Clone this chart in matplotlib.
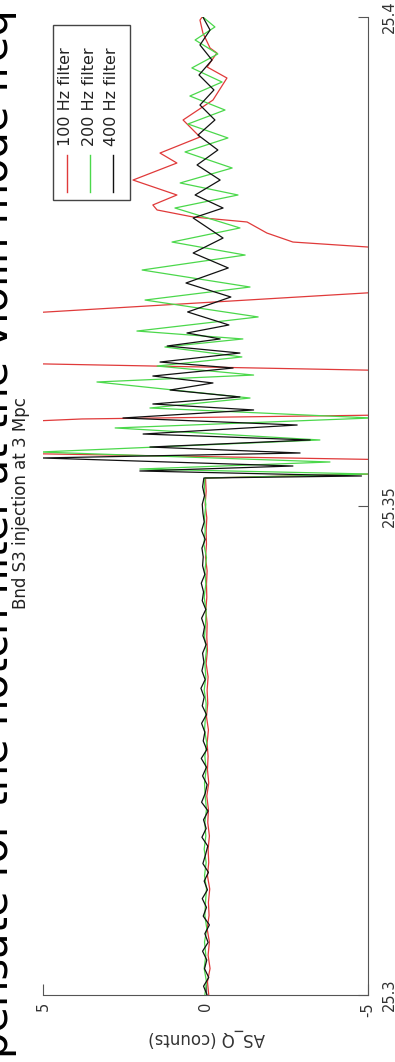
import numpy as np
import matplotlib
matplotlib.use('Agg')
import matplotlib.pyplot as plt
from matplotlib.patches import Rectangle
from matplotlib.lines import Line2D

plt.rcParams['axes.unicode_minus'] = False

# time axis (s) and the moment the injection starts
t_start = 25.3
t_burst = 25.35286

# quiet part before the injection (counts)
red_flat = [-0.10, -0.06, -0.14, -0.08, -0.12, -0.05, -0.11, -0.09, -0.13, -0.06,
            -0.10, -0.08, -0.12, -0.07, -0.09, -0.04, -0.10, -0.06, -0.08, -0.05,
            -0.09, -0.03, -0.07, -0.05, -0.08, -0.02, -0.06, -0.04, -0.05, -0.01,
            -0.04, -0.03, -0.05, 0.00, -0.03, -0.02, -0.04, 0.01, -0.02, 0.00]
green_flat = [0.02, -0.03, 0.04, -0.01, 0.03, -0.04, 0.02, 0.00, -0.03, 0.03,
              -0.02, 0.04, -0.01, 0.02, -0.03, 0.01, 0.03, -0.02, 0.02, -0.04,
              0.03, 0.00, -0.02, 0.04, -0.01, 0.02, -0.03, 0.03, 0.00, -0.02,
              0.04, -0.01, 0.02, -0.03, 0.05, 0.01, 0.03, -0.01, 0.04, 0.02]
black_flat = [-0.05, 0.06, -0.10, 0.03, -0.04, 0.09, -0.08, 0.02, -0.12, 0.07,
              -0.03, 0.10, -0.06, 0.04, -0.09, 0.08, 0.00, -0.07, 0.11, -0.02,
              0.06, -0.08, 0.12, 0.01, -0.05, 0.09, -0.03, 0.13, -0.04, 0.07,
              0.02, 0.12, -0.03, 0.10, 0.04, 0.14, 0.01, 0.11, 0.05, 0.09,
              -0.02, 0.08, 0.03, 0.12, -0.01, 0.10, 0.06, 0.13, 0.02, 0.09,
              0.07, 0.11, 0.01, 0.12, 0.04, 0.08, 0.10, 0.03, 0.09, 0.05]

# after the injection: ms after 25.3 s and counts
red_ms = [53.5, 54.6, 55.5, 58.3, 58.90, 59.41, 63.70, 64.72, 69.22, 72.39,
          75.97, 76.48, 76.99, 77.91, 79.04, 79.55, 80.27, 80.78, 81.80, 83.33,
          85.07, 86.09, 87.73, 89.47, 91.51, 93.76, 94.89, 96.32, 96.83, 98.36,
          99.69, 100.0]
red_v = [-8, -8, 8, 8, 3.8, -8, -8, 8, 8, -8,
         -8, -5.0, -2.69, -1.89, -1.28, 0.38, 1.49, 1.62, 0.88, 2.23,
         0.88, 1.4, 0.17, 0.69, -0.23, -0.66, -0.05, -0.35, -0.14, 0.08,
         0.17, 0.1]

green_ms = [53.27, 53.78, 54.50, 55.52, 56.75, 57.98, 59.00, 60.02, 61.04, 62.68,
            63.39, 64.31, 65.24, 66.26, 67.08, 67.89, 69.33, 71.06, 72.39, 74.13,
            75.66, 76.99, 78.43, 80.47, 81.80, 83.03, 84.56, 86.20, 87.63, 89.06,
            90.49, 91.92, 93.35, 94.79, 96.22, 97.65, 98.98, 100.0]
green_v = [-5.06, 2.02, -3.83, 5.09, -3.52, 2.78, -5.12, 1.71, -1.37, 3.34,
           -1.48, 1.49, -1.12, 1.25, -1.15, 2.11, -1.62, 1.86, -1.37, 1.95,
           -1.22, 1.03, -1.06, 0.94, -1.0, 0.78, -0.82, 0.63, -0.69, 0.54,
           -0.6, 0.48, -0.51, 0.42, -0.38, 0.32, -0.29, 0.08]

black_ms = [53.07, 53.58, 54.09, 54.91, 55.42, 56.03, 56.75, 57.36, 58.28, 59.00,
            59.82, 60.43, 61.15, 61.86, 62.58, 63.29, 64.11, 64.72, 65.64, 66.36,
            67.08, 67.69, 68.51, 69.84, 71.37, 72.80, 74.34, 75.87, 77.40, 79.45,
            80.47, 81.80, 83.33, 84.87, 86.40, 87.93, 89.47, 91.00, 92.54, 94.07,
            95.60, 97.14, 98.67, 100.0]
black_v = [-4.8, 2.02, -2.69, 5.03, -2.91, 1.71, -3.22, 1.92, -2.82, 2.54,
           -1.48, 1.62, -1.06, 1.09, -0.23, 1.62, -0.85, 1.4, -1.06, 1.18,
           -0.45, 0.57, -0.72, 0.55, -0.78, 0.6, -0.7, 0.38, -0.54, 0.38,
           -0.54, 0.32, -0.45, 0.26, -0.38, 0.23, -0.29, 0.17, -0.26, 0.2,
           -0.2, 0.17, -0.14, 0.08]

labels = ['100 Hz filter', '200 Hz filter', '400 Hz filter']
colors = ['#e03a3a', '#4bd84b', '#111111']
yticks = [25.3, 25.35, 25.4]
ytick_labels = ['25.3', '25.35', '25.4']
xticks = [5, 0, -5]
xtick_labels = ['5', '0', '-5']

W, H = 395, 1062
fig = plt.figure(figsize=(W / 100, H / 100), dpi=100)
ax = fig.add_axes([43 / W, 67 / H, 325 / W, 978 / H])

series = [(red_flat, red_ms, red_v), (green_flat, green_ms, green_v),
          (black_flat, black_ms, black_v)]
for (flat, ms, vals), c in zip(series, colors):
    t = np.concatenate([np.linspace(t_start, t_burst, len(flat)),
                        t_start + np.array(ms) / 1000.0])
    v = np.concatenate([flat, vals])
    ax.plot(v, t, color=c, lw=0.9)

# chart is shown turned a quarter turn: counts run right to left, time upward
ax.set_xlim(5, -5)
ax.set_ylim(25.3, 25.4)
ax.set_xticks(xticks)
ax.set_xticklabels(xtick_labels)
ax.yaxis.tick_right()
ax.set_yticks(yticks)
ax.set_yticklabels(ytick_labels)
ax.spines['top'].set_visible(False)
ax.spines['left'].set_visible(False)
for s in ['bottom', 'right']:
    ax.spines[s].set_color('#555555')
ax.tick_params(axis='x', direction='in', length=8, labelrotation=90,
               labelsize=10.5, pad=5, color='#555555', labelcolor='#333333')
ax.tick_params(axis='y', direction='in', length=7, labelrotation=90,
               labelsize=10.5, pad=10, color='#555555', labelcolor='#333333')
for lbl in ax.get_yticklabels():
    lbl.set_va('center')

fig.text(21 / W, 1 - 503 / H, 'Bnd S3 injection at 3 Mpc', rotation=90,
         ha='center', va='center', fontsize=12, color='#222222')
fig.text(207 / W, 24 / H, 'AS_Q (counts)', rotation=180,
         ha='center', va='center', fontsize=12, color='#333333')

# legend, drawn by hand because it is turned with the chart
fig.add_artist(Rectangle((53 / W, 1 - 200 / H), 77 / W, 175 / H,
                         transform=fig.transFigure, facecolor='white',
                         edgecolor='#444444', lw=1, zorder=5))
for i, (lab, c) in enumerate(zip(labels, colors)):
    x = (67 + 23 * i) / W
    fig.add_artist(Line2D([x, x], [1 - 192 / H, 1 - 155 / H],
                          transform=fig.transFigure, color=c, lw=1, zorder=6))
    fig.text((66 + 23 * i) / W, 1 - 146 / H, lab, rotation=90, ha='center',
             va='bottom', fontsize=11.5, color='#222222', zorder=6)

# slide text running along the left edge, mostly cut off by the crop
fig.text(17 / W, 4 / H, 'pensate for the notch filter at the violin mode freq',
         rotation=90, ha='right', va='bottom', fontsize=30, color='black')

fig.savefig('out.png', dpi=100)
